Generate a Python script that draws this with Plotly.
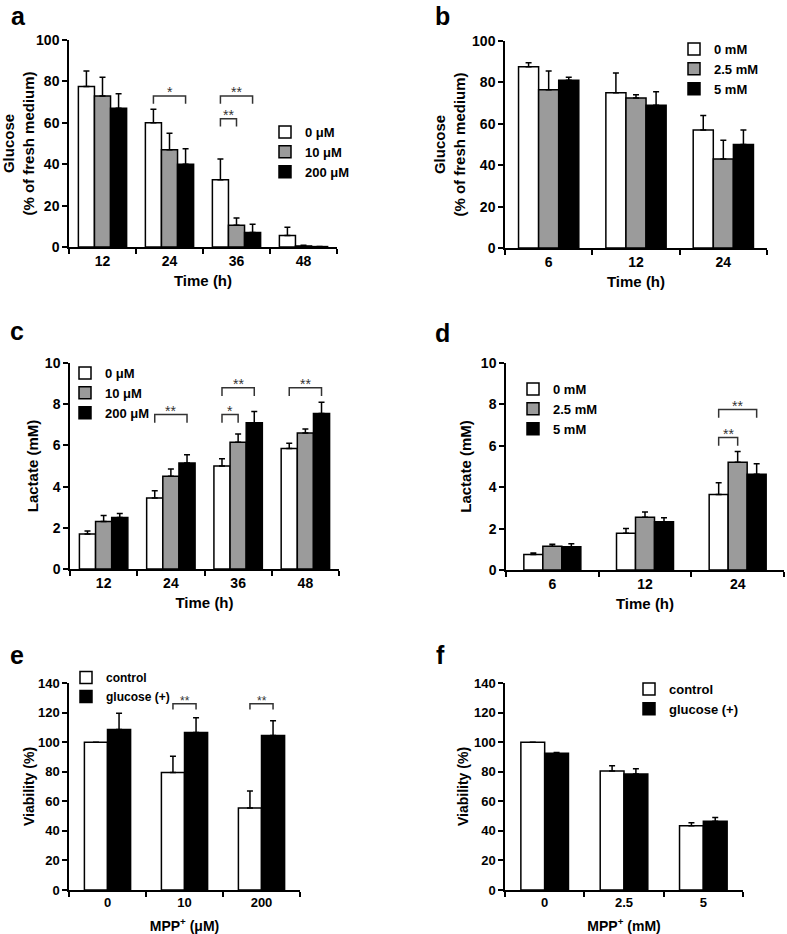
import plotly.graph_objects as go

W, H = 787, 934
FONT = "Liberation Sans, Arial, Helvetica, sans-serif"


def fx(x):
    return min(max(x / W, 0.0), 1.0)


def fy(y):
    return min(max(1 - y / H, 0.0), 1.0)


# ---------------- data ----------------
# Panel a: glucose vs time, MPP+ in µM
a_cats = ["12", "24", "36", "48"]
a_names = ["0 μM", "10 μM", "200 μM"]
a_0uM = [77.5, 60.0, 32.5, 5.5]
a_10uM = [73.0, 47.0, 10.5, 0.5]
a_200uM = [67.0, 40.0, 7.0, 0.2]
a_0uM_err = [7.5, 6.5, 10.0, 4.0]
a_10uM_err = [9.0, 8.0, 3.5, 0.3]
a_200uM_err = [7.0, 7.5, 4.0, 0.0]

# Panel b: glucose vs time, MPP+ in mM
b_cats = ["6", "12", "24"]
b_names = ["0 mM", "2.5 mM", "5 mM"]
b_0mM = [87.5, 75.0, 57.0]
b_25mM = [76.5, 72.5, 43.0]
b_5mM = [81.0, 69.0, 50.0]
b_0mM_err = [2.0, 9.5, 7.0]
b_25mM_err = [9.0, 1.5, 9.0]
b_5mM_err = [1.5, 6.5, 7.0]

# Panel c: lactate vs time, MPP+ in µM
c_cats = ["12", "24", "36", "48"]
c_names = ["0 μM", "10 μM", "200 μM"]
c_0uM = [1.70, 3.45, 5.00, 5.85]
c_10uM = [2.30, 4.50, 6.15, 6.60]
c_200uM = [2.50, 5.15, 7.10, 7.55]
c_0uM_err = [0.15, 0.35, 0.35, 0.25]
c_10uM_err = [0.30, 0.35, 0.40, 0.20]
c_200uM_err = [0.20, 0.40, 0.55, 0.55]

# Panel d: lactate vs time, MPP+ in mM
d_cats = ["6", "12", "24"]
d_names = ["0 mM", "2.5 mM", "5 mM"]
d_0mM = [0.75, 1.78, 3.65]
d_25mM = [1.15, 2.55, 5.20]
d_5mM = [1.12, 2.33, 4.62]
d_0mM_err = [0.07, 0.22, 0.57]
d_25mM_err = [0.10, 0.25, 0.52]
d_5mM_err = [0.15, 0.20, 0.51]

# Panel e: viability, MPP+ in µM
e_cats = ["0", "10", "200"]
e_names = ["control", "glucose (+)"]
e_control = [100.0, 79.5, 55.5]
e_glucose = [108.5, 106.5, 104.5]
e_control_err = [0.0, 11.0, 11.5]
e_glucose_err = [11.0, 10.0, 10.0]

# Panel f: viability, MPP+ in mM
f_cats = ["0", "2.5", "5"]
f_names = ["control", "glucose (+)"]
f_control = [100.0, 80.5, 43.5]
f_glucose = [92.5, 78.5, 46.5]
f_control_err = [0.0, 3.5, 2.0]
f_glucose_err = [0.5, 3.5, 2.5]

# significance brackets: (category index, from series, to series, level, label)
a_sig = [(1, 0, 2, 73, "*"), (2, 0, 2, 73, "**"), (2, 0, 1, 62, "**")]
c_sig = [(1, 0, 2, 7.5, "**"), (2, 0, 2, 8.8, "**"), (2, 0, 1, 7.5, "*"), (3, 0, 2, 8.8, "**")]
d_sig = [(2, 0, 2, 7.75, "**"), (2, 0, 1, 6.4, "**")]
e_sig = [(1, 0, 1, 126, "**"), (2, 0, 1, 126, "**")]

fills3 = ["white", "#9b9b9b", "black"]
fills2 = ["white", "black"]

panels = [
    dict(label="a", cats=a_cats, names=a_names,
         vals=[a_0uM, a_10uM, a_200uM], errs=[a_0uM_err, a_10uM_err, a_200uM_err],
         fills=fills3, ymax=100, dtick=20, ytitle="Glucose<br>(% of fresh medium)",
         xtitle="Time (h)", px=(69, 337), py=(40, 247), bw=0.24, sig=a_sig, drop=3.8,
         leg=(265, 117), lab=(18, 0), tf=14, ttf=15, lf=13, ys=6, xs=8),
    dict(label="b", cats=b_cats, names=b_names,
         vals=[b_0mM, b_25mM, b_5mM], errs=[b_0mM_err, b_25mM_err, b_5mM_err],
         fills=fills3, ymax=100, dtick=20, ytitle="Glucose<br>(% of fresh medium)",
         xtitle="Time (h)", px=(505, 767), py=(41, 248), bw=0.23, sig=[], drop=0,
         leg=(674, 34), lab=(442, 0), tf=14, ttf=15, lf=13, ys=3, xs=8),
    dict(label="c", cats=c_cats, names=c_names,
         vals=[c_0uM, c_10uM, c_200uM], errs=[c_0uM_err, c_10uM_err, c_200uM_err],
         fills=fills3, ymax=10, dtick=2, ytitle="Lactate (mM)",
         xtitle="Time (h)", px=(70, 339), py=(363, 569), bw=0.24, sig=c_sig, drop=0.4,
         leg=(65, 358), lab=(17, 315), tf=14, ttf=15, lf=13, ys=3, xs=8),
    dict(label="d", cats=d_cats, names=d_names,
         vals=[d_0mM, d_25mM, d_5mM], errs=[d_0mM_err, d_25mM_err, d_5mM_err],
         fills=fills3, ymax=10, dtick=2, ytitle="Lactate (mM)",
         xtitle="Time (h)", px=(506, 784), py=(363, 570), bw=0.205, sig=d_sig, drop=0.4,
         leg=(513, 374), lab=(442, 317), tf=14, ttf=15, lf=13, ys=6, xs=8),
    dict(label="e", cats=e_cats, names=e_names,
         vals=[e_control, e_glucose], errs=[e_control_err, e_glucose_err],
         fills=fills2, ymax=140, dtick=20, ytitle="Viability (%)",
         xtitle="MPP<sup>+</sup> (μM)", px=(69, 300), py=(683, 890), bw=0.30, sig=e_sig, drop=4,
         leg=(66, 663), lab=(17, 639), tf=13, ttf=14, lf=12, ys=0, xs=14),
    dict(label="f", cats=f_cats, names=f_names,
         vals=[f_control, f_glucose], errs=[f_control_err, f_glucose_err],
         fills=fills2, ymax=140, dtick=20, ytitle="Viability (%)",
         xtitle="MPP<sup>+</sup> (mM)", px=(505, 743), py=(683, 890), bw=0.30, sig=[], drop=0,
         leg=(629, 674), lab=(440, 639), tf=13, ttf=14, lf=13, ys=2, xs=14),
]

fig = go.Figure()
shapes = []
annotations = []

for i, p in enumerate(panels, start=1):
    n = len(p["cats"])
    m = len(p["names"])
    xa = "x" if i == 1 else f"x{i}"
    ya = "y" if i == 1 else f"y{i}"
    lg = "legend" if i == 1 else f"legend{i}"
    offs = [(j - (m - 1) / 2) * p["bw"] for j in range(m)]
    for j in range(m):
        fig.add_trace(go.Bar(
            x=[k + offs[j] for k in range(n)], y=p["vals"][j], width=p["bw"],
            name=p["names"][j], xaxis=xa, yaxis=ya, legend=lg,
            marker=dict(color=p["fills"][j], line=dict(color="black", width=1.5)),
            error_y=dict(type="data", symmetric=False, array=p["errs"][j],
                         arrayminus=[0] * n, color="black", thickness=1.5, width=3),
            hoverinfo="skip",
        ))
    axkey = "" if i == 1 else str(i)
    x0, x1 = p["px"]
    y0, y1 = p["py"]
    fig.layout["xaxis" + axkey] = dict(
        domain=[fx(x0), fx(x1)], anchor=ya, range=[-0.5, n - 0.5],
        tickmode="array", tickvals=list(range(n)), ticktext=p["cats"], ticks="", ticklen=2,
        showline=True, linecolor="black", linewidth=1.5, showgrid=False, zeroline=False,
        minor=dict(tickmode="array", tickvals=[k - 0.5 for k in range(n + 1)],
                   ticks="outside", ticklen=5, tickwidth=1.5, tickcolor="black", showgrid=False),
        tickfont=dict(family=FONT, size=p["tf"], color="black", weight="bold"),
        title=dict(text=p["xtitle"], standoff=p["xs"],
                   font=dict(family=FONT, size=p["ttf"], color="black", weight="bold")),
        automargin=False, fixedrange=True,
    )
    fig.layout["yaxis" + axkey] = dict(
        domain=[fy(y1), fy(y0)], anchor=xa, range=[0, p["ymax"]], dtick=p["dtick"],
        ticks="outside", ticklen=5, tickwidth=1.5, tickcolor="black",
        showline=True, linecolor="black", linewidth=1.5, showgrid=False, zeroline=False,
        tickfont=dict(family=FONT, size=p["tf"], color="black", weight="bold"),
        title=dict(text=p["ytitle"], standoff=p["ys"],
                   font=dict(family=FONT, size=p["ttf"], color="black", weight="bold")),
        automargin=False, fixedrange=True,
    )
    lx, ly = p["leg"]
    fig.layout[lg] = dict(
        x=fx(lx), y=fy(ly), xanchor="left", yanchor="top", xref="paper", yref="paper",
        bgcolor="rgba(0,0,0,0)", tracegroupgap=0, itemclick=False, itemdoubleclick=False,
        font=dict(family=FONT, size=p["lf"], color="black", weight="bold"),
    )
    # significance brackets
    for (k, s0, s1, lvl, txt) in p["sig"]:
        xa0 = k + offs[s0]
        xa1 = k + offs[s1]
        d = p["drop"]
        shapes.append(dict(
            type="path", xref=xa, yref=ya,
            path=f"M {xa0},{lvl - d} L {xa0},{lvl} L {xa1},{lvl} L {xa1},{lvl - d}",
            line=dict(color="#333333", width=1.5),
        ))
        annotations.append(dict(
            x=(xa0 + xa1) / 2, y=lvl, xref=xa, yref=ya, text=txt, showarrow=False,
            xanchor="center", yanchor="bottom", yshift=-6,
            font=dict(family=FONT, size=14 if i != 5 else 12, color="#333333"),
        ))
    # panel label
    cx, cy = p["lab"]
    annotations.append(dict(
        x=fx(cx), y=fy(cy), xref="paper", yref="paper", text=f"<b>{p['label']}</b>",
        showarrow=False, xanchor="center", yanchor="top",
        font=dict(family=FONT, size=25, color="black"),
    ))

fig.update_layout(
    width=W, height=H, margin=dict(l=0, r=0, t=0, b=0),
    paper_bgcolor="white", plot_bgcolor="white",
    shapes=shapes, annotations=annotations, barmode="overlay",
    font=dict(family=FONT, color="black"),
)

# remove the browser's default 8px body margin so the figure fills the window
fig.write_html("out.html", config={"displayModeBar": False},
               post_script="document.body.style.margin='0';")
